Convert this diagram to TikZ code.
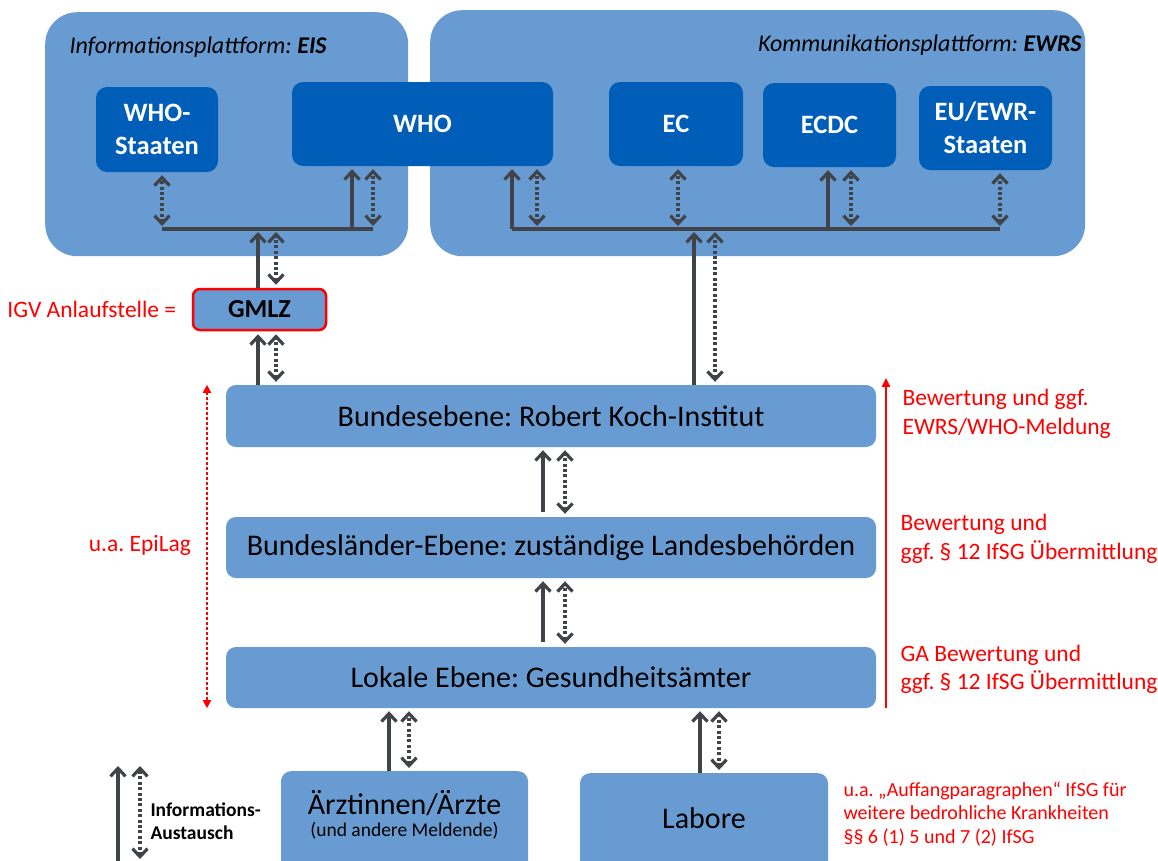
\documentclass[tikz,border=0pt]{standalone}
\usepackage{fontspec}
\setmainfont{Carlito}
\usetikzlibrary{arrows.meta,positioning}
\definecolor{panelblue}{RGB}{103,155,209}
\definecolor{orgblue}{RGB}{0,94,184}
\definecolor{linegray}{RGB}{64,68,72}
\definecolor{notered}{RGB}{255,0,0}
\frenchspacing

\begin{document}
\begin{tikzpicture}[x=1pt, y=-1pt, line join=round,
  panel/.style={fill=panelblue, rounded corners=32pt, inner sep=0pt},
  org/.style={fill=orgblue, rounded corners=11pt, text=white, align=center, inner sep=0pt, font=\fontsize{26.5}{33}\selectfont\bfseries},
  level/.style={fill=panelblue, rounded corners=10pt, inner sep=0pt, font=\fontsize{30}{33}\selectfont},
  bus/.style={draw=linegray, line width=3.2pt},
  flow/.style={bus, -{Straight Barb[length=8pt,width=15pt]}, shorten >=3pt},
  info/.style={bus, dash pattern=on 3pt off 2.4pt, {Straight Barb[length=8pt,width=15pt]}-{Straight Barb[length=8pt,width=15pt]}, shorten >=3pt, shorten <=3pt},
  note/.style={text=notered, align=left, font=\fontsize{23.5}{28.5}\selectfont},
  reddot/.style={draw=notered, line width=2.2pt, dash pattern=on 3pt off 2pt, {Triangle[length=8pt,width=8pt]}-{Triangle[length=8pt,width=8pt]}},
  redline/.style={draw=notered, line width=2.5pt, -{Triangle[length=9pt,width=8pt]}}
]
\useasboundingbox (0,0) rectangle (1158,860);

% plattformen
\node[panel, minimum width=363pt, minimum height=244pt, anchor=north west] (eis) at (45,12) {};
\node[panel, minimum width=655pt, minimum height=246pt, anchor=north west] (ewrs) at (430,10) {};
\node[anchor=west, font=\fontsize{24}{28}\selectfont\itshape] (eistitle) at (66,47) {Informationsplattform: \textbf{EIS}};
\node[anchor=east, font=\fontsize{24}{28}\selectfont\itshape] (ewrstitle) at (1085,45) {Kommunikationsplattform: \textbf{EWRS}};

\node[org, minimum width=122pt, minimum height=85pt] (whostaaten) at (157,129.5) {WHO-\\Staaten};
\node[org, minimum width=261pt, minimum height=84pt] (who) at (422.5,124) {WHO};
\node[org, minimum width=134pt, minimum height=84pt] (ec) at (676,124) {EC};
\node[org, minimum width=133pt, minimum height=84pt] (ecdc) at (829.5,125) {ECDC};
\node[org, minimum width=133pt, minimum height=84pt] (euewr) at (985.5,128) {EU/EWR-\\Staaten};

% GMLZ und Ebenen
\node[level, draw=notered, line width=2.5pt, rounded corners=7pt, minimum width=133pt, minimum height=41pt, font=\fontsize{26}{28}\selectfont\bfseries] (gmlz) at (259.5,309.5) {GMLZ};
\node[note, left=12pt of gmlz] (igv) {IGV Anlaufstelle =};

\node[level, minimum width=650pt, minimum height=62pt] (rki) at (551,416) {Bundesebene: Robert Koch-Institut};
\node[level, minimum width=650pt, minimum height=61pt] (laender) at (551,547.5) {Bundesländer-Ebene: zuständige Landesbehörden};
\node[level, minimum width=650pt, minimum height=61pt] (lokal) at (551,677.5) {Lokale Ebene: Gesundheitsämter};

\node[level, minimum width=247pt, minimum height=110pt, anchor=north] (aerzte) at (404.5,771) {};
\node[font=\fontsize{30}{33}\selectfont] (aerztetext) at (404.5,803) {Ärztinnen/Ärzte};
\node[font=\fontsize{19.5}{22}\selectfont] (aerztesub) at (404.5,831) {(und andere Meldende)};
\node[level, minimum width=248pt, minimum height=110pt, anchor=north] (labore) at (704,773) {};
\node[font=\fontsize{30}{33}\selectfont] (laboretext) at (704,818) {Labore};

% EIS
\coordinate (eisL) at (162,229);
\coordinate (eisW) at (352,229);
\coordinate (eisR) at (373,229);
\coordinate (gmF) at (258,229);
\coordinate (gmI) at (276,229);
\draw[bus] (eisL) -- (eisR);
\draw[info] (eisL) -- (eisL |- whostaaten.south);
\draw[flow] (eisW) -- (eisW |- who.south);
\draw[info] (eisR) -- (eisR |- who.south);
\draw[flow] (gmF |- gmlz.north) -- (gmF);
\draw[info] (gmI |- gmlz.north) -- (gmI);
\draw[flow] (gmF |- rki.north) -- (gmF |- gmlz.south);
\draw[info] (gmI |- rki.north) -- (gmI |- gmlz.south);

% EWRS
\coordinate (ewrsL) at (512,229);
\coordinate (whoI) at (537,229);
\coordinate (ecI) at (678,229);
\coordinate (rkiF) at (694,229);
\coordinate (rkiI) at (715,229);
\coordinate (ecdcF) at (828,229);
\coordinate (ecdcI) at (851,229);
\coordinate (ewrsR) at (1000,229);
\draw[bus] (ewrsL) -- (ewrsR);
\draw[flow] (ewrsL) -- (ewrsL |- who.south);
\draw[info] (whoI) -- (whoI |- who.south);
\draw[info] (ecI) -- (ecI |- ec.south);
\draw[flow] (ecdcF) -- (ecdcF |- ecdc.south);
\draw[info] (ecdcI) -- (ecdcI |- ecdc.south);
\draw[info] (ewrsR) -- (ewrsR |- euewr.south);
\draw[flow] (rkiF |- rki.north) -- (rkiF);
\draw[info] (rkiI |- rki.north) -- (rkiI);

% Ebenen
\coordinate (midF) at (543,0);
\coordinate (midI) at (565,0);
\draw[flow, shorten <=5pt] (midF |- laender.north) -- (midF |- rki.south);
\draw[info] (midI |- laender.north) -- (midI |- rki.south);
\draw[flow, shorten <=5pt] (midF |- lokal.north) -- (midF |- laender.south);
\draw[info] (midI |- lokal.north) -- (midI |- laender.south);

\coordinate (arzF) at (389,0);
\coordinate (arzI) at (409,0);
\coordinate (labF) at (700,0);
\coordinate (labI) at (719,0);
\draw[flow] (arzF |- aerzte.north) -- (arzF |- lokal.south);
\draw[info] (arzI |- aerzte.north) -- (arzI |- lokal.south);
\draw[flow] (labF |- labore.north) -- (labF |- lokal.south);
\draw[info] (labI |- labore.north) -- (labI |- lokal.south);

% rote Hinweise
\coordinate (epi) at (207,0);
\coordinate (bew) at (886,0);
\draw[reddot] (epi |- rki.north) -- (epi |- lokal.south);
\node[note] (epilag) at (140,545) {u.a. EpiLag};
\draw[redline] (bew |- lokal.south) -- ([yshift=7pt]bew |- rki.north);
\node[note, anchor=west] (bewrki) at (899,414) {Bewertung und ggf.\\EWRS/WHO-Meldung};
\node[note, anchor=west] (bewland) at (897,539) {Bewertung und\\ggf. § 12 IfSG Übermittlung};
\node[note, anchor=west] (bewlokal) at (897,669.5) {GA Bewertung und\\ggf. § 12 IfSG Übermittlung};
\node[note, anchor=west, font=\fontsize{20}{23.5}\selectfont] (auffang) at (840,814) {u.a. „Auffangparagraphen“ IfSG für\\weitere bedrohliche Krankheiten\\§§ 6 (1) 5 und 7 (2) IfSG};

% Legende
\coordinate (legF) at (118,864);
\coordinate (legFtop) at (118,763);
\coordinate (legI) at (140,862);
\coordinate (legItop) at (140,763);
\draw[flow] (legF) -- (legFtop);
\draw[info] (legI) -- (legItop);
\node[anchor=west, align=left, font=\fontsize{19.5}{23}\selectfont\bfseries] (legtext) at (147,821) {Informations-\\Austausch};

\end{tikzpicture}
\end{document}
